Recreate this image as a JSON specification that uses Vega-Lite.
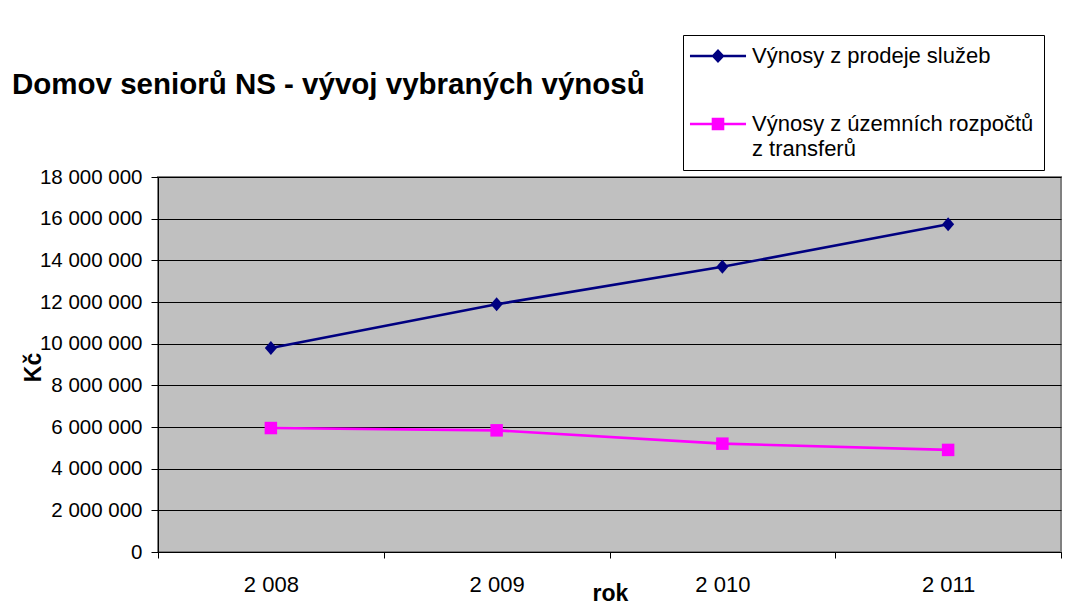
{
  "$schema": "https://vega.github.io/schema/vega-lite/v6.json",
  "width": 903,
  "height": 375,
  "autosize": {"type": "none"},
  "padding": {"left": 158, "top": 177, "right": 5, "bottom": 58},
  "background": "white",
  "config": {
    "locale": {"number": {"decimal": ",", "thousands": " ", "grouping": [3], "currency": ["", " Kč"]}},
    "font": "Liberation Sans",
    "view": {"fill": "#C0C0C0", "stroke": "#808080", "strokeWidth": 2}
  },
  "title": {
    "text": "Domov seniorů NS - vývoj vybraných výnosů",
    "anchor": "start",
    "frame": "group",
    "fontSize": 29.5,
    "fontWeight": "bold",
    "font": "Liberation Sans",
    "color": "black",
    "dx": -146,
    "dy": 76,
    "offset": 10
  },
  "data": {
    "values": [
      {"rok": 2008, "serie": "Výnosy z prodeje služeb", "value": 9790000},
      {"rok": 2009, "serie": "Výnosy z prodeje služeb", "value": 11890000},
      {"rok": 2010, "serie": "Výnosy z prodeje služeb", "value": 13690000},
      {"rok": 2011, "serie": "Výnosy z prodeje služeb", "value": 15730000},
      {"rok": 2008, "serie": "Výnosy z územních rozpočtů z transferů", "value": 5950000},
      {"rok": 2009, "serie": "Výnosy z územních rozpočtů z transferů", "value": 5840000},
      {"rok": 2010, "serie": "Výnosy z územních rozpočtů z transferů", "value": 5200000},
      {"rok": 2011, "serie": "Výnosy z územních rozpočtů z transferů", "value": 4900000}
    ]
  },
  "encoding": {
    "x": {
      "field": "rok",
      "type": "ordinal",
      "scale": {"paddingInner": 0, "paddingOuter": 0},
      "axis": {
        "title": "rok",
        "labelAngle": 0,
        "formatType": "number",
        "format": ",d",
        "domainColor": "black",
        "domainWidth": 1,
        "tickColor": "black",
        "tickSize": 6,
        "tickBand": "extent",
        "labelPadding": 16,
        "labelFontSize": 22,
        "labelColor": "black",
        "labelFont": "Liberation Sans",
        "titleFontSize": 23,
        "titleFontWeight": "bold",
        "titleColor": "black",
        "titleX": 452,
        "titleY": 48,
        "titleBaseline": "alphabetic"
      }
    },
    "y": {
      "field": "value",
      "type": "quantitative",
      "scale": {"domain": [0, 18000000], "nice": false},
      "axis": {
        "title": "Kč",
        "values": [0, 2000000, 4000000, 6000000, 8000000, 10000000, 12000000, 14000000, 16000000, 18000000],
        "format": ",d",
        "grid": true,
        "gridColor": "black",
        "gridOpacity": 1,
        "gridWidth": 1,
        "domainColor": "black",
        "tickColor": "black",
        "tickSize": 7,
        "labelPadding": 9,
        "labelFontSize": 20.5,
        "labelColor": "black",
        "labelFont": "Liberation Sans",
        "titleFontSize": 23,
        "titleFontWeight": "bold",
        "titleColor": "black",
        "titleX": -118,
        "titleY": 190,
        "titleAngle": -90,
        "titleAlign": "center",
        "titleBaseline": "alphabetic"
      }
    },
    "color": {
      "field": "serie",
      "type": "nominal",
      "scale": {
        "domain": ["Výnosy z prodeje služeb", "Výnosy z územních rozpočtů z transferů"],
        "range": ["#000080", "#FF00FF"]
      },
      "legend": {
        "orient": "none",
        "legendX": 525,
        "legendY": -142,
        "title": null,
        "strokeColor": "black",
        "fillColor": "white",
        "padding": 10,
        "labelFont": "Liberation Sans",
        "labelFontSize": 22,
        "labelColor": "black",
        "labelLimit": 400,
        "labelOffset": 37,
        "symbolSize": 144,
        "symbolStrokeWidth": 0,
        "rowPadding": 46,
        "labelExpr": "datum.label == 'Výnosy z územních rozpočtů z transferů' ? ['Výnosy z územních rozpočtů', 'z transferů'] : datum.label",
        "encode": {
          "symbols": {
            "update": {
              "x": {"value": 25},
              "shape": {"signal": "datum.value == 'Výnosy z prodeje služeb' ? 'M-4.67,-0.19H-0.9L0,-1.17L0.9,-0.19H4.67V0.19H0.9L0,1.17L-0.9,0.19H-4.67Z' : 'M-4.67,-0.19H-1.05V-1.05H1.05V-0.19H4.67V0.19H1.05V1.05H-1.05V0.19H-4.67Z'"},
              "fill": {"signal": "datum.value == 'Výnosy z prodeje služeb' ? '#000080' : '#FF00FF'"},
              "fillOpacity": {"value": 1},
              "opacity": {"value": 1},
              "strokeWidth": {"value": 0}
            }
          },
          "labels": {"update": {"lineHeight": {"value": 25}}}
        }
      }
    }
  },
  "layer": [
    {"mark": {"type": "line", "strokeWidth": 2.6}},
    {
      "transform": [{"filter": "datum.serie == 'Výnosy z prodeje služeb'"}],
      "mark": {"type": "point", "filled": true, "opacity": 1, "size": 196, "shape": "M0,-1L0.86,0L0,1L-0.86,0Z"}
    },
    {
      "transform": [{"filter": "datum.serie == 'Výnosy z územních rozpočtů z transferů'"}],
      "mark": {"type": "point", "filled": true, "opacity": 1, "size": 156, "shape": "square"}
    }
  ]
}
